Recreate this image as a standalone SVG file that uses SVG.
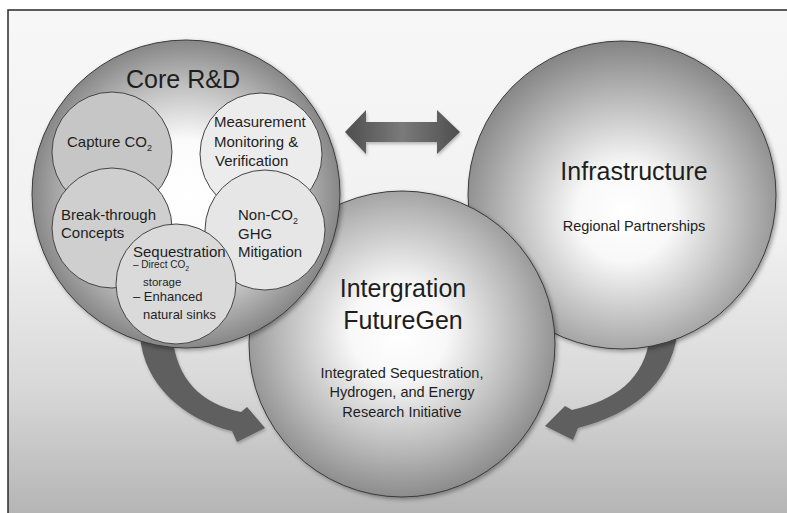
<svg xmlns="http://www.w3.org/2000/svg" width="787" height="513" viewBox="0 0 787 513">
  <defs>
    <linearGradient id="bg" x1="0" y1="0" x2="0" y2="1">
      <stop offset="0" stop-color="#f7f7f7"/>
      <stop offset="0.45" stop-color="#f1f1f1"/>
      <stop offset="0.75" stop-color="#d8d8d8"/>
      <stop offset="1" stop-color="#b5b5b5"/>
    </linearGradient>
    <radialGradient id="gCore" cx="0.5" cy="0.5" r="0.5">
      <stop offset="0" stop-color="#ffffff"/>
      <stop offset="0.35" stop-color="#fbfbfb"/>
      <stop offset="0.72" stop-color="#bdbdbd"/>
      <stop offset="1" stop-color="#878787"/>
    </radialGradient>
    <radialGradient id="gInfra" cx="0.51" cy="0.56" r="0.56">
      <stop offset="0" stop-color="#ffffff"/>
      <stop offset="0.28" stop-color="#f8f8f8"/>
      <stop offset="0.7" stop-color="#b5b5b5"/>
      <stop offset="1" stop-color="#848484"/>
    </radialGradient>
    <radialGradient id="gInteg" cx="0.49" cy="0.46" r="0.56">
      <stop offset="0" stop-color="#ffffff"/>
      <stop offset="0.28" stop-color="#f8f8f8"/>
      <stop offset="0.7" stop-color="#b8b8b8"/>
      <stop offset="1" stop-color="#868686"/>
    </radialGradient>
    <linearGradient id="gDouble" x1="0" y1="0" x2="1" y2="0">
      <stop offset="0" stop-color="#4e4e4e"/>
      <stop offset="0.5" stop-color="#7a7a7a"/>
      <stop offset="1" stop-color="#4e4e4e"/>
    </linearGradient>
    <filter id="shadow" x="-10%" y="-10%" width="125%" height="125%">
      <feDropShadow dx="2" dy="2" stdDeviation="2" flood-color="#000" flood-opacity="0.35"/>
    </filter>
    <filter id="soft" x="-10%" y="-10%" width="125%" height="125%">
      <feDropShadow dx="1" dy="2" stdDeviation="1.5" flood-color="#000" flood-opacity="0.25"/>
    </filter>
  </defs>
  <style>
    text { font-family: "Liberation Sans", Arial, sans-serif; fill: #1e1e1e; }
    .title { font-size: 25px; text-anchor: middle; }
    .sub { font-size: 14.5px; text-anchor: middle; }
    .item { font-size: 15px; }
    .small { font-size: 10px; }
    .ring { stroke: #3a3a3a; stroke-width: 1; }
    .inner { stroke: #444; stroke-width: 1; }
    .conn { fill: #5e5e5e; }
  </style>

  <!-- backdrop and frame -->
  <rect x="0" y="0" width="787" height="513" fill="#ffffff"/>
  <rect x="8" y="10" width="779" height="503" fill="url(#bg)"/>
  <path d="M8 513 V10 H787" fill="none" stroke="#2a2a2a" stroke-width="1.5"/>

  <!-- connectors -->
  <g id="connectors">
    <path class="conn" filter="url(#soft)" d="M140 335 C143 385 185 420 232 431 L237 442 L265 428 L247 407 L241 412 C200 403 177 380 172 335 Z"/>
    <path class="conn" filter="url(#soft)" d="M677 335 C670 385 630 415 578 428 L573 440 L545 426 L565 406 L572 410 C615 400 645 380 650 335 Z"/>
    <polygon fill="url(#gDouble)" filter="url(#soft)" points="345,132 366,110 366,122 437,122 437,110 460,132 437,154 437,142 366,142 366,154"/>
  </g>

  <!-- Infrastructure -->
  <g id="infrastructure">
    <circle class="ring" cx="622" cy="195" r="154" fill="url(#gInfra)" filter="url(#shadow)"/>
    <text class="title" x="634" y="180">Infrastructure</text>
    <text class="sub" x="634" y="231">Regional Partnerships</text>
  </g>

  <!-- Integration -->
  <g id="integration">
    <circle class="ring" cx="402" cy="344" r="153" fill="url(#gInteg)" filter="url(#shadow)"/>
    <text class="title" x="403" y="297">Intergration</text>
    <text class="title" x="403" y="329">FutureGen</text>
    <text class="sub" x="402" y="378">Integrated Sequestration,</text>
    <text class="sub" x="402" y="397">Hydrogen, and Energy</text>
    <text class="sub" x="402" y="417">Research Initiative</text>
  </g>

  <!-- Core R&D with its program areas -->
  <g id="core-rd">
    <circle class="ring" cx="186" cy="194" r="154" fill="url(#gCore)" filter="url(#shadow)"/>
    <text class="title" x="183" y="88">Core R&amp;D</text>

    <g id="capture">
      <circle class="inner" cx="112" cy="152" r="60" fill="#c6c6c6"/>
      <text class="item" x="67" y="147">Capture CO<tspan font-size="9" dy="4">2</tspan></text>
    </g>
    <g id="measurement">
      <circle class="inner" cx="261" cy="154" r="61" fill="#ececec"/>
      <text class="item" x="214" y="127">Measurement</text>
      <text class="item" x="214" y="147">Monitoring &amp;</text>
      <text class="item" x="215" y="166">Verification</text>
    </g>
    <g id="breakthrough">
      <circle class="inner" cx="112" cy="228" r="60" fill="#cfcfcf"/>
      <text class="item" x="61" y="220">Break-through</text>
      <text class="item" x="61" y="238">Concepts</text>
    </g>
    <g id="non-co2">
      <circle class="inner" cx="265" cy="230" r="60" fill="#e6e6e6"/>
      <text class="item" x="238" y="220">Non-CO<tspan font-size="9" dy="4">2</tspan></text>
      <text class="item" x="238" y="239">GHG</text>
      <text class="item" x="238" y="257">Mitigation</text>
    </g>
    <g id="sequestration">
      <circle class="inner" cx="176" cy="284" r="60" fill="#dadada"/>
      <text class="item" x="133" y="257" font-size="14.5">Sequestration</text>
      <text class="small" x="133" y="268">– Direct CO<tspan font-size="7" dy="3">2</tspan></text>
      <text x="143" y="286" font-size="11.5">storage</text>
      <text x="133" y="301" font-size="13">– Enhanced</text>
      <text x="143" y="319" font-size="13">natural sinks</text>
    </g>
  </g>
</svg>
